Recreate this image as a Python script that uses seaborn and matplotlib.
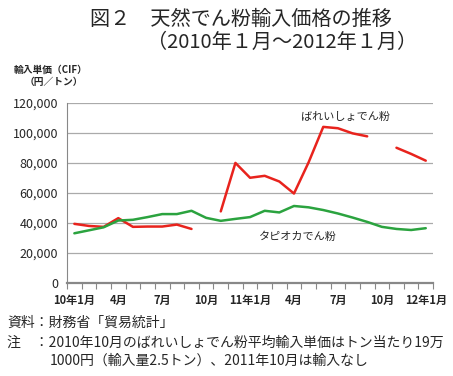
import numpy as np
import pandas as pd
import seaborn as sns
import matplotlib.pyplot as plt
from matplotlib.ticker import FuncFormatter

# monthly import unit price (yen/ton), Jan 2010 .. Jan 2012
months = list(range(25))
potato = [39500, 38100, 37500, 43300, 37500, 37700, 37700, 39000, 36100, np.nan,
          47800, 80100, 70200, 71500, 67700, 59700, 80500, 104100, 103200, 99800,
          97800, np.nan, 90200, 86100, 81600]
tapioca = [33200, 35200, 37200, 41700, 42200, 44000, 46000, 46000, 48200, 43500,
           41500, 42800, 44000, 48200, 47100, 51400, 50500, 48700, 46400, 43700,
           40800, 37500, 36100, 35400, 36600]
tick_pos = [0, 3, 6, 9, 12, 15, 18, 21, 24]
tick_labels = ['10年1月', '4月', '7月', '10月', '11年1月', '4月', '7月', '10月', '12年1月']

rows = []
for name, vals in [('potato', potato), ('tapioca', tapioca)]:
    seg = 0
    for m, v in zip(months, vals):
        if np.isnan(v):
            seg += 1
            continue
        rows.append({'month': m, 'price': v, 'series': name, 'seg': seg})
df = pd.DataFrame(rows)

sns.set_style('white')
plt.rcParams['font.family'] = ['Noto Sans CJK JP', 'DejaVu Sans']

fig = plt.figure(figsize=(4.53, 3.76), dpi=100)
ax = fig.add_axes([0.148, 0.247, 0.808, 0.479])

sns.lineplot(data=df, x='month', y='price', hue='series', units='seg', estimator=None,
             palette={'potato': '#e8231d', 'tapioca': '#2ba33f'}, linewidth=1.8,
             legend=False, ax=ax)

ax.set_xlim(-0.5, 24.5)
ax.set_ylim(0, 120000)
ax.set_yticks(range(0, 120001, 20000))
ax.yaxis.set_major_formatter(FuncFormatter(lambda v, p: f'{int(v):,}'))
ax.grid(axis='y', color='#aaaaaa', linewidth=0.9)
ax.set_axisbelow(True)

ax.set_xticks(tick_pos)
ax.set_xticklabels(tick_labels, fontsize=8, fontweight='bold')
ax.set_xticks(np.arange(-0.5, 25, 1), minor=True)
ax.tick_params(axis='x', which='major', length=0, pad=8)
ax.tick_params(axis='x', which='minor', length=4, color='#888888', width=0.8, bottom=True)
ax.tick_params(axis='y', length=3, color='#888888', labelsize=9)
ax.set_xlabel('')
ax.set_ylabel('')

for s in ['top', 'right']:
    ax.spines[s].set_visible(False)
ax.spines['left'].set_color('#888888')
ax.spines['bottom'].set_color('#888888')
ax.spines['bottom'].set_linewidth(1.6)

ax.text(18.5, 111000, 'ばれいしょでん粉', fontsize=8, ha='center', va='center')
ax.text(15.3, 31000, 'タピオカでん粉', fontsize=8, ha='center', va='center')

fig.text(0.199, 0.949, '図２　天然でん粉輸入価格の推移', fontsize=14.5, ha='left', va='center')
fig.text(0.325, 0.886, '（2010年１月～2012年１月）', fontsize=14.5, ha='left', va='center')
fig.text(0.030, 0.814, '輸入単価（CIF）', fontsize=7, fontweight='bold', ha='left', va='center')
fig.text(0.055, 0.782, '（円／トン）', fontsize=7, fontweight='bold', ha='left', va='center')

fig.text(0.016, 0.141, '資料：財務省「貿易統計」', fontsize=10, ha='left', va='center')
fig.text(0.016, 0.088, '注　：2010年10月のばれいしょでん粉平均輸入単価はトン当たり19万',
         fontsize=10, ha='left', va='center')
fig.text(0.110, 0.040, '1000円（輸入量2.5トン）、2011年10月は輸入なし',
         fontsize=10, ha='left', va='center')

fig.savefig('out.png', dpi=100)
